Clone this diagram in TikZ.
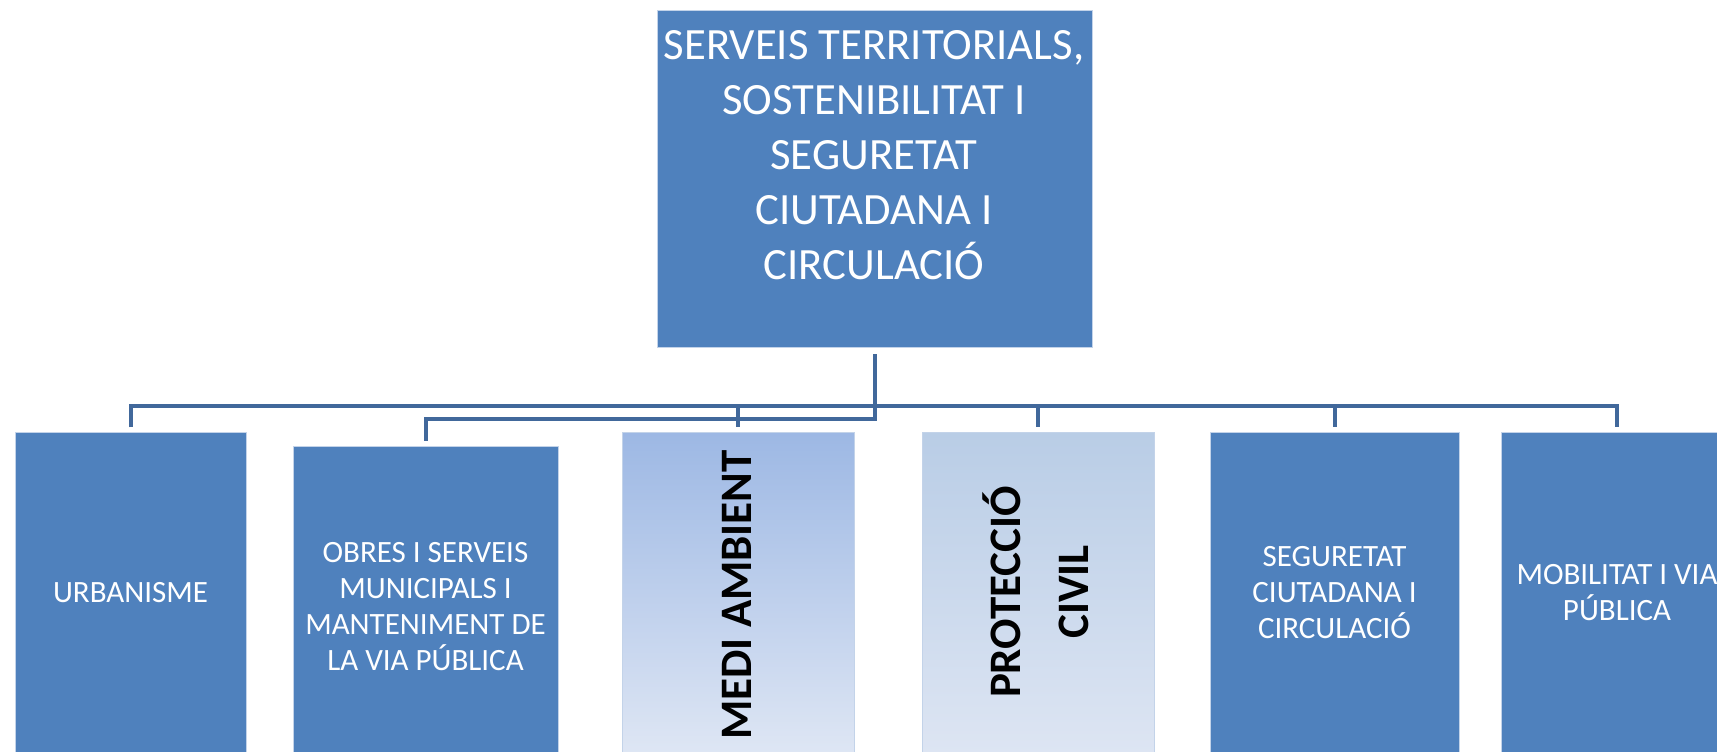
\documentclass[tikz,border=0pt]{standalone}
\usepackage{fontspec}
\setmainfont{Carlito}
\definecolor{boxblue}{HTML}{4F81BD}
\definecolor{lineblue}{HTML}{41689B}
\definecolor{boxedge}{HTML}{C3D3E9}
\tikzset{
  unit/.style={draw=boxedge, line width=1pt, fill=boxblue, text=white, inner sep=0pt,
    minimum height=320pt, align=center, font=\fontsize{31}{36}\selectfont},
  lightunit/.style={draw=boxedge, line width=1pt, inner sep=0pt, minimum height=320pt,
    minimum width=232pt},
  vtext/.style={rotate=90, align=center, inner sep=0pt, text=black,
    font=\bfseries\fontsize{45}{68}\selectfont},
  conn/.style={draw=lineblue, line width=4pt},
}

\begin{document}
\begin{tikzpicture}[x=1pt,y=1pt]
	\useasboundingbox (0,0) rectangle (1717,752);
	\clip (0,0) rectangle (1717,752);
	% head
	\node[unit, minimum width=435pt, minimum height=337pt] (top) at (874.5,572.5) {};
	\node[text=white, align=center, inner sep=0pt, font=\fontsize{44.7}{55}\selectfont] (toptxt) at (874,597)
		{SERVEIS TERRITORIALS,\\SOSTENIBILITAT I\\SEGURETAT\\CIUTADANA I\\CIRCULACIÓ};
	% units
	\node[unit, minimum width=231pt] (urb) at (130.5,159) {URBANISME};
	\node[unit, minimum width=265pt] (obres) at (425.5,145) {OBRES I SERVEIS\\MUNICIPALS I\\MANTENIMENT DE\\LA VIA PÚBLICA};
	\node[lightunit, top color={rgb,255:red,157;green,184;blue,228}, bottom color={rgb,255:red,222;green,230;blue,244}] (medi) at (738,159) {};
	\node[vtext] (meditxt) at (737,157) {MEDI AMBIENT};
	\node[lightunit, top color={rgb,255:red,185;green,205;blue,230}, bottom color={rgb,255:red,221;green,229;blue,243}] (prot) at (1038,159) {};
	\node[vtext] (prottxt) at (1036,160) {PROTECCIÓ\\CIVIL};
	\node[unit, minimum width=249pt] (seg) at (1334.5,159) {SEGURETAT\\CIUTADANA I\\CIRCULACIÓ};
	\node[unit, minimum width=232pt] (mob) at (1617,159) {MOBILITAT I VIA\\PÚBLICA};
	% connectors
	\coordinate (bus) at (874,346);
	\draw[conn] ([yshift=5pt]urb.north) |- (bus) -| ([yshift=5pt]mob.north);
	\foreach \n in {medi,prot,seg}
		\draw[conn] (\n.north |- bus) -- ([yshift=5pt]\n.north);
	\draw[conn] ([yshift=-6pt]top.south) -- ++(0,-65) -| ([yshift=5pt]obres.north);
\end{tikzpicture}
\end{document}
